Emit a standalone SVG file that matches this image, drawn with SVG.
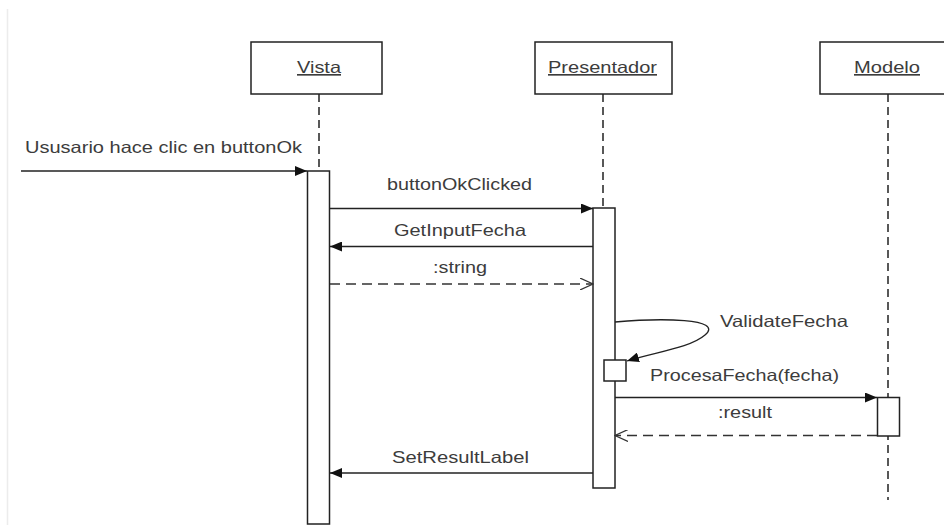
<svg xmlns="http://www.w3.org/2000/svg" width="944" height="525" viewBox="0 0 944 525">
  <defs>
    <marker id="filled" viewBox="0 0 12 10" refX="12" refY="5" markerWidth="12" markerHeight="10" markerUnits="userSpaceOnUse" orient="auto">
      <path d="M0,0 L12,5 L0,10 Z" fill="#111"/>
    </marker>
    <marker id="open" viewBox="0 0 14 12" refX="13" refY="6" markerWidth="14" markerHeight="12" markerUnits="userSpaceOnUse" orient="auto">
      <path d="M0,0 L13,6 L0,12" fill="none" stroke="#333" stroke-width="1.2"/>
    </marker>
    <style>
      text { font-family: "Liberation Sans", Arial, sans-serif; font-size: 16.5px; fill: #3c3c3c; }
      .head { fill: #fff; stroke: #222; stroke-width: 1.5; }
      .name { text-anchor: middle; text-decoration: underline; }
      .life { stroke: #222; stroke-width: 1.5; stroke-dasharray: 8 5; fill: none; }
      .act { fill: #fff; stroke: #222; stroke-width: 1.5; }
      .msg { stroke: #222; stroke-width: 1.3; fill: none; marker-end: url(#filled); }
      .ret { stroke: #333; stroke-width: 1.3; fill: none; stroke-dasharray: 10 6; marker-end: url(#open); }
      .lbl { text-anchor: middle; }
    </style>
  </defs>

  <rect width="944" height="525" fill="#fff"/>
  <line x1="7.5" y1="9" x2="7.5" y2="525" stroke="#ececec" stroke-width="1.5"/>

  <!-- Vista -->
  <g id="vista">
    <rect class="head" x="251" y="42" width="131" height="52"/>
    <text class="name" x="319" y="73" textLength="44" lengthAdjust="spacingAndGlyphs">Vista</text>
    <line class="life" x1="319" y1="94" x2="319" y2="171"/>
    <rect class="act" x="307.5" y="171" width="22" height="353"/>
  </g>

  <!-- Presentador -->
  <g id="presentador">
    <rect class="head" x="535" y="42" width="137" height="52"/>
    <text class="name" x="602.5" y="73" textLength="109" lengthAdjust="spacingAndGlyphs">Presentador</text>
    <line class="life" x1="603" y1="94" x2="603" y2="208"/>
    <rect class="act" x="593" y="208" width="22" height="280"/>
    <rect class="act" x="604" y="360" width="22" height="21"/>
  </g>

  <!-- Modelo -->
  <g id="modelo">
    <rect class="head" x="820" y="42" width="135" height="52"/>
    <text class="name" x="887" y="73" textLength="66" lengthAdjust="spacingAndGlyphs">Modelo</text>
    <line class="life" x1="888" y1="94" x2="888" y2="500"/>
    <rect class="act" x="877.5" y="397.5" width="22" height="38.5"/>
  </g>

  <!-- Messages -->
  <g id="connectors">
    <line class="msg" x1="21" y1="171" x2="307" y2="171"/>
    <line class="msg" x1="330" y1="208.5" x2="593" y2="208.5"/>
    <line class="msg" x1="593" y1="246.5" x2="330" y2="246.5"/>
    <line class="ret" x1="330" y1="284" x2="593" y2="284"/>
    <path class="msg" d="M615,322 C660,318 725,318 705,335 C690,348 655,352 627,361"/>
    <line class="msg" x1="615" y1="397.5" x2="877" y2="397.5"/>
    <line class="ret" x1="877" y1="435.5" x2="615" y2="435.5"/>
    <line class="msg" x1="593" y1="473" x2="330" y2="473"/>
  </g>

  <g id="labels">
    <text x="25" y="153" textLength="277" lengthAdjust="spacingAndGlyphs">Ususario hace clic en buttonOk</text>
    <text class="lbl" x="459.5" y="190" textLength="145" lengthAdjust="spacingAndGlyphs">buttonOkClicked</text>
    <text class="lbl" x="460" y="236" textLength="132" lengthAdjust="spacingAndGlyphs">GetInputFecha</text>
    <text class="lbl" x="460" y="273" textLength="54" lengthAdjust="spacingAndGlyphs">:string</text>
    <text x="720" y="327" textLength="128" lengthAdjust="spacingAndGlyphs">ValidateFecha</text>
    <text x="650" y="381" textLength="189" lengthAdjust="spacingAndGlyphs">ProcesaFecha(fecha)</text>
    <text class="lbl" x="745" y="418" textLength="54" lengthAdjust="spacingAndGlyphs">:result</text>
    <text class="lbl" x="460.5" y="463" textLength="137" lengthAdjust="spacingAndGlyphs">SetResultLabel</text>
  </g>
</svg>
